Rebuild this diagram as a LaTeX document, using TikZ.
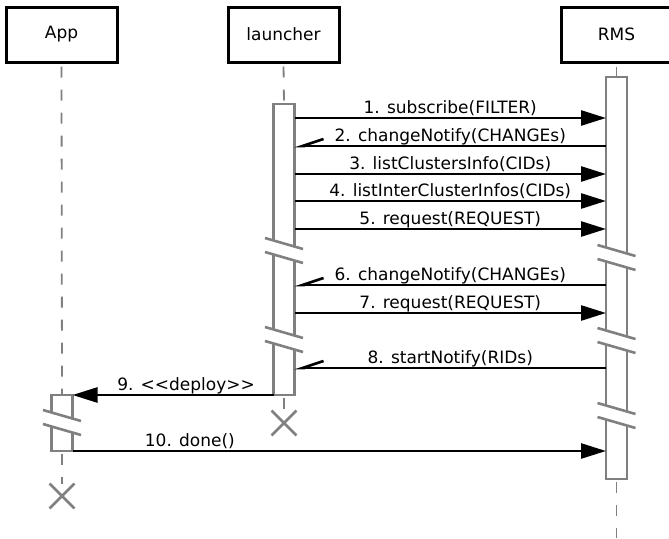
\documentclass[tikz,border=0pt]{standalone}
\usepackage{fontspec}
\setmainfont{DejaVu Sans}
\usetikzlibrary{arrows.meta,shapes.misc}
\definecolor{lifegray}{RGB}{128,128,128}

\tikzset{
  head/.style={draw=black, line width=3pt, minimum width=111pt,
    minimum height=55pt, inner sep=0pt, font=\fontsize{17}{20}\selectfont},
  bar/.style={draw=lifegray, line width=2.6pt, fill=white,
    minimum width=21pt, inner sep=0pt, outer sep=0pt},
  life/.style={draw=lifegray, line width=1.8pt,
    dash pattern=on 11pt off 12pt, dash phase=20pt},
  brk/.style={draw=lifegray, line width=2.6pt},
  msg/.style={draw=black, line width=2.6pt, -{Triangle[length=25pt,width=15pt]}},
  reply/.style={draw=black, line width=2.6pt,
    -{Straight Barb[right,length=21pt,width=14pt]}},
  lbl/.style={anchor=base, yshift=5pt, inner sep=0pt,
    font=\fontsize{17}{20}\selectfont},
  destroy/.style={cross out, draw=lifegray, line width=2.8pt,
    minimum size=22pt, inner sep=0pt}
}

% break mark across an activation bar
\newcommand\cutbar[2]{%
  \fill[white] ({#1-19},#2) -- ({#1+19},{#2+11}) -- ({#1+19},{#2+25})
    -- ({#1-19},{#2+14}) -- cycle;
  \draw[brk] ({#1-19},#2) -- ({#1+19},{#2+11})
    ({#1-19},{#2+14}) -- ({#1+19},{#2+25});}

\begin{document}
\begin{tikzpicture}[x=1pt,y=-1pt]
\clip (0,0) rectangle (669,538);
% participants
\node[head] (app) at (61.5,34.5) {App};
\node[head] (launcher) at (283.5,34.5) {launcher};
\node[head] (rms) at (616.5,34.5) {RMS};
% activations
\node[bar, minimum height=56pt] (barA) at (62,423) {};
\node[bar, minimum height=291pt] (barL) at (284,249.5) {};
\node[bar, minimum height=402pt] (barR) at (616.5,278) {};
% destroy marks
\node[destroy] (xA) at (62,496) {};
\node[destroy] (xL) at (284,423) {};
\coordinate (rmsEnd) at (616.5,538);
% lifelines
\draw[life] (app.south) -- (barA.north);
\draw[life] (barA.south) -- (xA.north);
\draw[life] (launcher.south) -- (barL.north);
\draw[life] (barL.south) -- (xL.north);
\draw[life] (rms.south) -- (barR.north);
\draw[life] (barR.south) -- (rmsEnd);
% breaks
\cutbar{284}{238}
\cutbar{284}{327}
\cutbar{616.5}{245}
\cutbar{616.5}{328}
\cutbar{616.5}{403}
\cutbar{62}{410}
% messages
\draw[msg] (barL.east |- 0,118) -- node[lbl] {1. subscribe(FILTER)} (barR.west |- 0,118);
\draw[reply] (barR.west |- 0,146) -- node[lbl] {2. changeNotify(CHANGEs)} (barL.east |- 0,146);
\draw[msg] (barL.east |- 0,174) -- node[lbl] {3. listClustersInfo(CIDs)} (barR.west |- 0,174);
\draw[msg] (barL.east |- 0,201) -- node[lbl] {4. listInterClusterInfos(CIDs)} (barR.west |- 0,201);
\draw[msg] (barL.east |- 0,229) -- node[lbl] {5. request(REQUEST)} (barR.west |- 0,229);
\draw[reply] (barR.west |- 0,285) -- node[lbl] {6. changeNotify(CHANGEs)} (barL.east |- 0,285);
\draw[msg] (barL.east |- 0,313) -- node[lbl] {7. request(REQUEST)} (barR.west |- 0,313);
\draw[reply] (barR.west |- 0,368) -- node[lbl] {8. startNotify(RIDs)} (barL.east |- 0,368);
\draw[msg] (barL.south west) -- node[lbl, pos=0.435] {9. <\kern0pt<deploy>\kern0pt>} (barA.north east);
\draw[msg] (barA.south east) -- node[lbl, pos=0.22] {10. done()} (barR.west |- barA.south east);
\end{tikzpicture}
\end{document}
